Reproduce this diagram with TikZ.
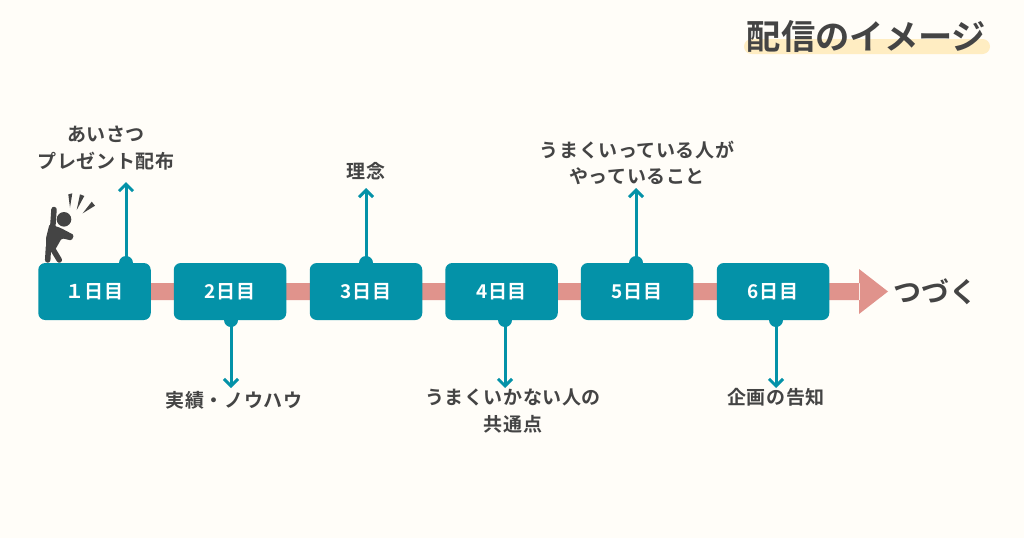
\documentclass[tikz,border=0pt]{standalone}
\usepackage{fontspec}
\usetikzlibrary{arrows.meta}
\newfontfamily\jpb[LetterSpace=3]{Noto Sans CJK JP Bold}
\newfontfamily\jpt{Noto Sans CJK JP Bold}
\definecolor{bgc}{HTML}{FFFDF8}
\definecolor{teal}{HTML}{0492A8}
\definecolor{salmon}{HTML}{E0938C}
\definecolor{ink}{HTML}{444444}
\definecolor{hl}{HTML}{FFEDC2}
\tikzset{
 daybox/.style={fill=teal,rounded corners=7pt,minimum width=112.5pt,minimum height=57pt,inner sep=0pt,text=white,font=\jpb\fontsize{19}{19}\selectfont},
 lab/.style={text=ink,font=\jpb\fontsize{19}{26.5}\selectfont,align=center,inner sep=0pt},
 conn/.style={draw=teal,line width=3pt,-{Straight Barb[length=7pt,width=14pt,line width=3pt]}},
 dot/.style={circle,fill=teal,minimum size=14pt,inner sep=0pt},
 limb/.style={draw=ink,line width=5.5pt,line cap=round,line join=round},
}
\begin{document}
\begin{tikzpicture}[x=1pt,y=-1pt]
\path[use as bounding box,fill=bgc] (0,0) rectangle (1024,538);
% title
\fill[hl,rounded corners=7.5pt] (744,39) rectangle (990,54);
\node[text=ink,font=\jpt\fontsize{34.3}{34.3}\selectfont,inner sep=0pt] (title) at (866.5,36) {配信のイメージ};
% timeline
\fill[salmon] (100,283) rectangle (860,300) (859,269) -- (888,291.5) -- (859,314) -- cycle;
% dots
\node[dot] (d1) at (126,263) {};
\node[dot] (d2) at (231,320) {};
\node[dot] (d3) at (366,263) {};
\node[dot] (d4) at (505,320) {};
\node[dot] (d5) at (636,263) {};
\node[dot] (d6) at (776,320) {};
% boxes
\node[daybox] (b1) at (94.5,291.5) {１日目};
\node[daybox] (b2) at (230,291.5) {2日目};
\node[daybox] (b3) at (366,291.5) {3日目};
\node[daybox] (b4) at (501.5,291.5) {4日目};
\node[daybox] (b5) at (637,291.5) {5日目};
\node[daybox] (b6) at (773,291.5) {6日目};
% labels
\node[lab] (l1) at (106,148) {あいさつ\\プレゼント配布};
\node[lab] (l2) at (234,400) {実績・ノウハウ};
\node[lab] (l3) at (366,171) {理念};
\node[lab] (l4) at (513,411) {うまくいかない人の\\共通点};
\node[lab] (l5) at (637,163) {うまくいっている人が\\やっていること};
\node[lab] (l6) at (776,397) {企画の告知};
\node[text=ink,font=\jpt\fontsize{28}{28}\selectfont,inner sep=0pt] (more) at (935,292) {つづく};
% connectors
\coordinate (a1) at (126,182);
\coordinate (a2) at (231,388);
\coordinate (a3) at (366,188);
\coordinate (a4) at (505,388);
\coordinate (a5) at (636,188);
\coordinate (a6) at (776,388);
\draw[conn] (d1.center) -- (a1);
\draw[conn] (d2.center) -- (a2);
\draw[conn] (d3.center) -- (a3);
\draw[conn] (d4.center) -- (a4);
\draw[conn] (d5.center) -- (a5);
\draw[conn] (d6.center) -- (a6);
% person
\fill[ink] (64,219.3) circle (7.3);
\draw[limb] (54,209.5) -- (52.7,228);
\fill[ink,rounded corners=1.5pt] (49.5,224) -- (60.7,228) -- (74,235) -- (71.7,240.5) -- (61.7,238.3) -- (55,250) -- (46,250) -- (46,238) -- cycle;
\draw[limb] (48.5,247) -- (47.7,260);
\draw[limb] (51.5,247) -- (59.3,260);
\fill[ink] (68.3,194.3) -- (72.3,193.3) -- (70,207.7) -- cycle;
\fill[ink] (80,194.3) -- (84.3,196) -- (76.7,210) -- cycle;
\fill[ink] (91.7,201.7) -- (95,205.7) -- (82.7,213.3) -- cycle;
\end{tikzpicture}
\end{document}
